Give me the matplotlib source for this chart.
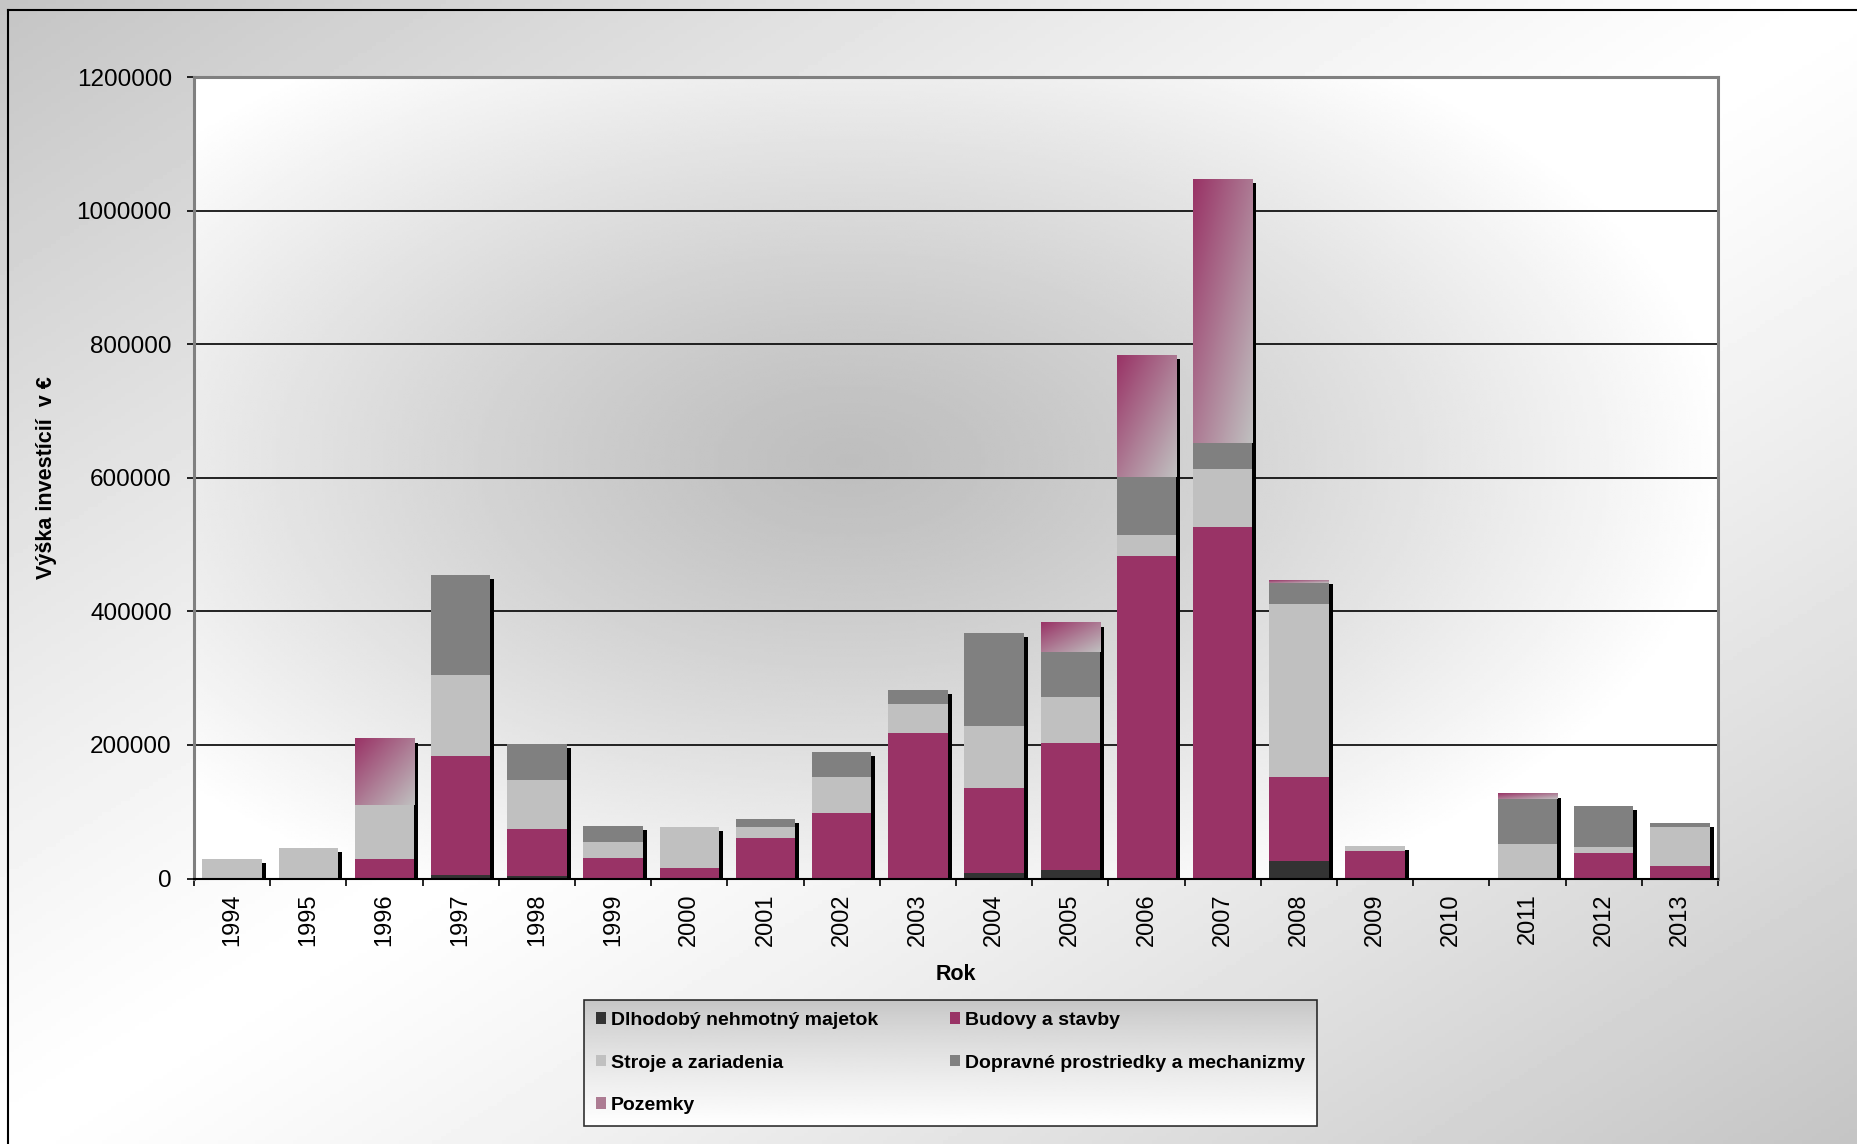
import numpy as np
import matplotlib
matplotlib.use("Agg")
import matplotlib.pyplot as plt
from matplotlib.transforms import ScaledTranslation
from matplotlib.lines import Line2D
from matplotlib.colors import LinearSegmentedColormap

plt.rcParams['font.family'] = ['Liberation Sans', 'DejaVu Sans']

years = [str(y) for y in range(1994, 2014)]
dlhodoby = [0, 0, 0, 5000, 3500, 0, 0, 0, 0, 0, 8000, 12500, 0, 0, 26000, 0, 0, 0, 0, 0]
budovy = [0, 0, 29000, 178000, 70500, 30500, 15500, 60500, 98000, 217500,
          127500, 190500, 482500, 526000, 126000, 41000, 0, 0, 38000, 18500]
stroje = [29000, 45500, 81000, 121000, 73500, 24000, 61000, 16500, 54000, 43500,
          93000, 69000, 31500, 87000, 259000, 7500, 1000, 52000, 9000, 58500]
dopravne = [0, 0, 0, 150000, 53500, 24000, 1000, 12000, 37500, 21000,
            139000, 67500, 87000, 39000, 31500, 0, 0, 67000, 61500, 6000]
pozemky = [0, 0, 99000, 0, 0, 0, 0, 0, 0, 0, 0, 43500, 182500, 395000, 4000, 0, 0, 7500, 0, 0]

series_names = ["Dlhodobý nehmotný majetok", "Budovy a stavby", "Stroje a zariadenia",
                "Dopravné prostriedky a mechanizmy", "Pozemky"]
series_values = [dlhodoby, budovy, stroje, dopravne, pozemky]
series_colors = ["#333333", "#993366", "#C0C0C0", "#808080", "#AD7C93"]
yticks = [0, 200000, 400000, 600000, 800000, 1000000, 1200000]

W, H = 1858, 1144
fig = plt.figure(figsize=(W / 100, H / 100), dpi=100)

# figure background gradient (diagonal gray-white-gray)
bg_ax = fig.add_axes([0, 0, 1, 1], zorder=-10)
gy, gx = np.mgrid[0:1:300j, 0:1:400j]
t = (gx + gy) / 2.0
v = 1 - 0.23 * np.abs(2 * t - 1) ** 1.15
bg_ax.imshow(v, cmap='gray', vmin=0, vmax=1, extent=(0, 1, 0, 1), aspect='auto', origin='upper')
bg_ax.set_axis_off()

# border lines
fig.add_artist(Line2D([8 / W, 8 / W], [0, 1 - 10 / H], color='black', lw=1.5, transform=fig.transFigure))
fig.add_artist(Line2D([8 / W, 1], [1 - 10 / H, 1 - 10 / H], color='black', lw=1.5, transform=fig.transFigure))

ax = fig.add_axes([194 / W, 1 - 878.5 / H, (1718 - 194) / W, (878.5 - 77) / H])
ax.patch.set_visible(False)

# plot-area radial gradient
py, px = np.mgrid[0:1:300j, 0:1:400j]
d = np.sqrt(((px - 0.43) / 0.58) ** 2 + ((py - 0.52) / 0.62) ** 2)
pv = 0.745 + 0.255 * np.clip(d, 0, 1) ** 1.25
ax.imshow(pv, cmap='gray', vmin=0, vmax=1, extent=(0, 1, 0, 1), origin='lower',
          aspect='auto', transform=ax.transAxes, zorder=-1)

x = np.arange(len(years))
bw = 0.78
totals = np.sum(np.array(series_values), axis=0)

# shadow
shadow = ax.bar(x, totals, width=bw, color='black', zorder=1.5, linewidth=0)
off = ScaledTranslation(4 / 100, -4 / 100, fig.dpi_scale_trans)
for p in shadow:
    p.set_transform(ax.transData + off)

bottom = np.zeros(len(years))
containers = []
for name, vals, col in zip(series_names, series_values, series_colors):
    c = ax.bar(x, vals, width=bw, bottom=bottom, color=col, label=name, zorder=2, linewidth=0)
    containers.append(c)
    bottom = bottom + np.array(vals)

# gradient fill for Pozemky
cmap = LinearSegmentedColormap.from_list('poz', ['#993366', '#C0C0C0'])
gu, gv = np.mgrid[0:1:64j, 0:1:64j]
grad = (gv + gu) / 2.0  # top-left -> bottom-right
for p in containers[4]:
    h = p.get_height()
    if h <= 0:
        continue
    x0, y0, w = p.get_x(), p.get_y(), p.get_width()
    ax.imshow(grad, cmap=cmap, vmin=0, vmax=1, extent=(x0, x0 + w, y0, y0 + h),
              origin='upper', aspect='auto', zorder=2.1, interpolation='bilinear')

ax.set_xlim(-0.5, len(years) - 0.5)
ax.set_ylim(0, 1200000)
ax.set_yticks(yticks)
ax.set_yticklabels([str(v) for v in yticks])
ax.yaxis.grid(True, color='black', linewidth=1.2, zorder=0.5)
ax.set_axisbelow(True)

ax.set_xticks(x)
ax.set_xticklabels(years, rotation=90)
ax.set_xticks(np.arange(-0.5, len(years), 1), minor=True)
ax.tick_params(axis='x', which='major', length=0, pad=10.5, labelsize=17)
ax.tick_params(axis='x', which='minor', length=5, width=1.2, color='black', direction='out')
ax.tick_params(axis='y', length=5, width=1.2, pad=11, labelsize=17.5, direction='out')

for s in ['left', 'top', 'right']:
    ax.spines[s].set_color('#808080')
    ax.spines[s].set_linewidth(2.2)
ax.spines['bottom'].set_color('black')
ax.spines['bottom'].set_linewidth(1.5)

ax.set_ylabel("Výška investícií  v €", fontsize=15.5, fontweight='bold')
ax.yaxis.set_label_coords(-0.090, 0.5)
ax.set_xlabel("Rok", fontsize=15.5, fontweight='bold')
ax.xaxis.set_label_coords(0.5, -0.107)

# legend, row-major ordering in 2 columns
order = [0, 2, 4, 1, 3]
handles = [containers[i] for i in order]
labels = [series_names[i] for i in order]
leg = fig.legend(handles, labels, ncol=2, loc='center',
                 bbox_to_anchor=(584 / W, 1 - 1127 / H, (1317 - 584) / W, (1127 - 999) / H),
                 mode='expand', frameon=True, fancybox=False, edgecolor='black',
                 prop={'size': 14, 'weight': 'bold'}, handlelength=0.5, handleheight=0.55,
                 handletextpad=0.25, labelspacing=1.32, borderaxespad=0, borderpad=0.62,
                 columnspacing=3.0)
leg.get_frame().set_facecolor('none')
leg.get_frame().set_linewidth(1.2)

fig.canvas.draw()
renderer = fig.canvas.get_renderer()
bb = leg.get_frame().get_window_extent(renderer).transformed(fig.transFigure.inverted())
lax = fig.add_axes([bb.x0, bb.y0, bb.width, bb.height], zorder=1)
lg = np.linspace(0, 1, 100).reshape(-1, 1)
lax.imshow(0.77 + 0.23 * lg ** 0.8, cmap='gray', vmin=0, vmax=1, aspect='auto',
           extent=(0, 1, 0, 1), origin='upper')
lax.set_axis_off()

fig.savefig('out.png', dpi=100)
